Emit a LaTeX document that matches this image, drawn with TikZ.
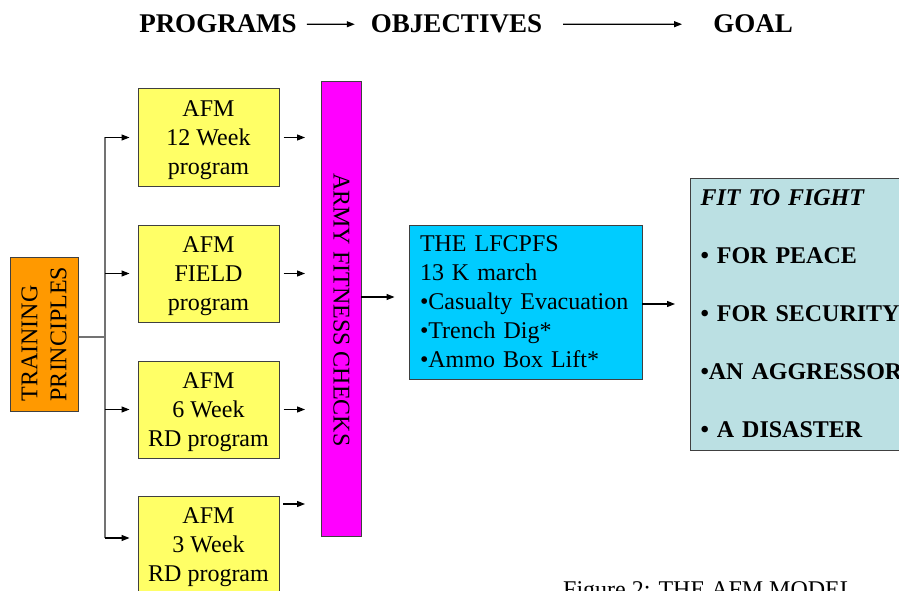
\documentclass[tikz,border=0pt]{standalone}
\usepackage{fontspec}
\setmainfont{Liberation Serif}
\usetikzlibrary{arrows.meta}
\definecolor{progyellow}{HTML}{FFFF66}
\definecolor{trainorange}{HTML}{FF9900}
\definecolor{checkmagenta}{HTML}{FF00FF}
\definecolor{testcyan}{HTML}{00CCFF}
\definecolor{goalteal}{HTML}{BBE0E3}
\tikzset{
  base/.style={font=\fontsize{24}{29}\selectfont},
  box/.style={base, draw=black!75, line width=1pt, inner sep=0pt},
  progbox/.style={box, fill=progyellow, minimum width=141pt, minimum height=97pt, align=center, text depth=0pt},
  head/.style={font=\fontsize{27}{32}\selectfont\bfseries, inner sep=0pt, anchor=base},
  arr/.style={line width=1.1pt, -{Triangle[length=8pt,width=6pt]}},
  link/.style={line width=1.1pt, draw=black!55},
}
\begin{document}
\begin{tikzpicture}[x=1pt, y=-1pt]
\clip (0,0) rectangle (899,591);
\fill[white] (0,0) rectangle (899,591);

% headings
\node[head] (prog) at (218,33) {PROGRAMS};
\node[head] (obj) at (456.5,33) {OBJECTIVES};
\node[head] (goal) at (753,33) {GOAL};
\draw[arr, shorten <=10pt, shorten >=16pt] (prog.east) -- (obj.west);
\draw[arr, shorten <=21pt, shorten >=31pt] (obj.east) -- (goal.west);

% training principles
\node[box, fill=trainorange, minimum width=68pt, minimum height=154pt] (train) at (44,334) {};
\node[base, rotate=90, align=left, inner sep=0pt] (traintxt) at (44,334) {TRAINING\\PRINCIPLES};

% programme boxes
\node[progbox] (y1) at (208.5,137.5) {AFM\\12 Week\\program};
\node[progbox] (y2) at (208.5,273.5) {AFM\\FIELD\\program};
\node[progbox] (y3) at (208.5,409.5) {AFM\\6 Week\\RD program};
\node[progbox] (y4) at (208.5,544.5) {AFM\\3 Week\\RD program};

% fitness checks bar
\node[box, fill=checkmagenta, minimum width=40pt, minimum height=454pt] (mag) at (341.5,309) {};
\node[base, rotate=-90, inner sep=0pt] (magtxt) at (341.5,310) {ARMY FITNESS CHECKS};

% LFCPFS box
\node[box, fill=testcyan, minimum width=233pt, minimum height=154pt, text width=211pt,
      inner xsep=11pt, align=left] (cyan) at (525.5,302) {THE LFCPFS\\13 K march\\\textbullet Casualty Evacuation\\\textbullet Trench Dig*\\\textbullet Ammo Box Lift*};

% goal box
\node[box, fill=goalteal, minimum width=230pt, minimum height=272pt, text width=210pt,
      inner xsep=10pt, align=left, anchor=west, font=\fontsize{24}{29}\selectfont\bfseries] (goalbox) at (690,314)
  {\textit{FIT TO FIGHT}\\[29pt]\textbullet{} FOR PEACE\\[29pt]\textbullet{} FOR SECURITY\\[29pt]\textbullet AN AGGRESSOR\\[29pt]\textbullet{} A DISASTER};

% trunk from training principles
\coordinate (tj) at (105,337);
\coordinate (t1) at (105,137.5);
\coordinate (t2) at (105,273.5);
\coordinate (t3) at (105,409.5);
\coordinate (t4) at (105,538);
\draw[link] (train.east |- tj) -- (tj);
\draw[link] (t1) -- (t4);
\draw[arr, shorten >=8pt] (t1) -- (y1.west);
\draw[arr, shorten >=8pt] (t2) -- (y2.west);
\draw[arr, shorten >=8pt] (t3) -- (y3.west);
\draw[arr, shorten >=8pt] (t4) -- (t4 -| y4.west);

% programmes into fitness checks
\coordinate (a4) at (279,504);
\draw[arr, shorten <=4pt, shorten >=16pt] (y1.east) -- (y1.east -| mag.west);
\draw[arr, shorten <=4pt, shorten >=16pt] (y2.east) -- (y2.east -| mag.west);
\draw[arr, shorten <=4pt, shorten >=16pt] (y3.east) -- (y3.east -| mag.west);
\draw[arr, shorten <=4pt, shorten >=16pt] (a4) -- (a4 -| mag.west);

% checks -> LFCPFS -> goal
\coordinate (m1) at (361,297);
\draw[arr, shorten >=14pt] (m1) -- (m1 -| cyan.west);
\coordinate (c1) at (642,304);
\draw[arr, shorten >=15pt] (c1) -- (c1 -| goalbox.west);

% caption
\node[base, anchor=base west, inner sep=0pt] (caption) at (563,597) {Figure 2: THE AFM MODEL};
\end{tikzpicture}
\end{document}
